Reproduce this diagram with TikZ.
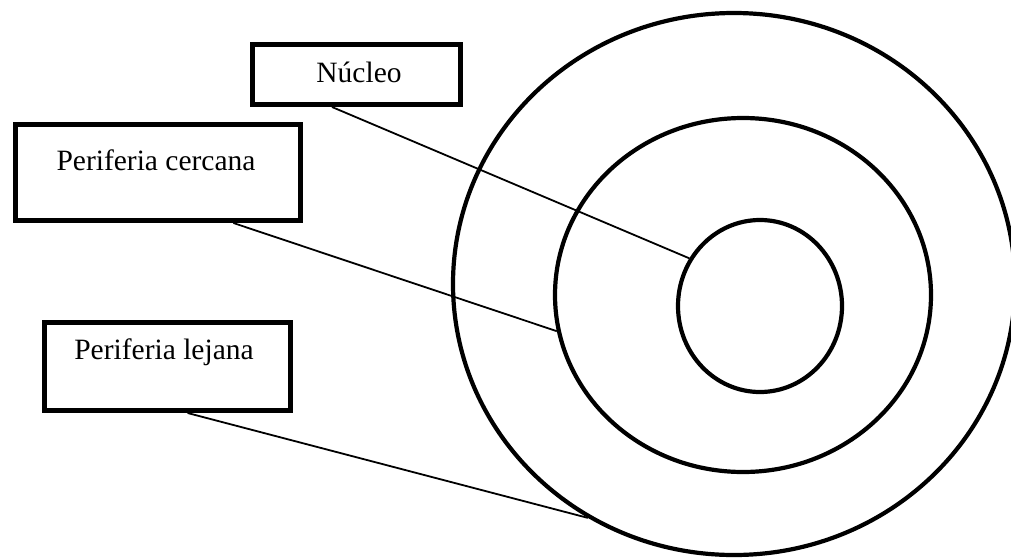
\documentclass[tikz,border=0pt]{standalone}
\usepackage{fontspec}
\setmainfont{Liberation Serif}
\usetikzlibrary{shapes.geometric,calc}
\begin{document}
\begin{tikzpicture}[x=1pt,y=-1pt,
  box/.style={draw,line width=5pt,rectangle,inner sep=0pt,anchor=north west},
  ring/.style={draw,line width=4.2pt,ellipse,inner sep=0pt},
  lbl/.style={font=\fontsize{29.5}{34}\selectfont,inner sep=0pt},
  conn/.style={line width=1.8pt}]
\useasboundingbox (0,0) rectangle (1011,557);
% rings
\node[ring,minimum width=562pt,minimum height=542pt] (outer) at (734,284) {};
\node[ring,minimum width=376pt,minimum height=354pt] (middle) at (743,295) {};
\node[ring,minimum width=164pt,minimum height=172pt] (inner) at (760,306) {};
% boxes
\node[box,minimum width=208pt,minimum height=60pt] (nuc) at (250,42) {};
\node[box,minimum width=285pt,minimum height=96pt] (cer) at (13,122) {};
\node[box,minimum width=246pt,minimum height=88pt] (lej) at (42,320) {};
% labels
\node[lbl] (tnuc) at (359,72) {Núcleo};
\node[lbl] (tcer) at (156,160) {Periferia cercana};
\node[lbl] (tlej) at (164,352) {Periferia lejana};
% connectors
\draw[conn] ($(nuc.south west)!0.385!(nuc.south east)$) -- (inner.146);
\draw[conn] ($(cer.south west)!0.76!(cer.south east)$) -- (middle.191);
\draw[conn] ($(lej.south west)!0.58!(lej.south east)$) -- (outer.238);
\end{tikzpicture}
\end{document}
